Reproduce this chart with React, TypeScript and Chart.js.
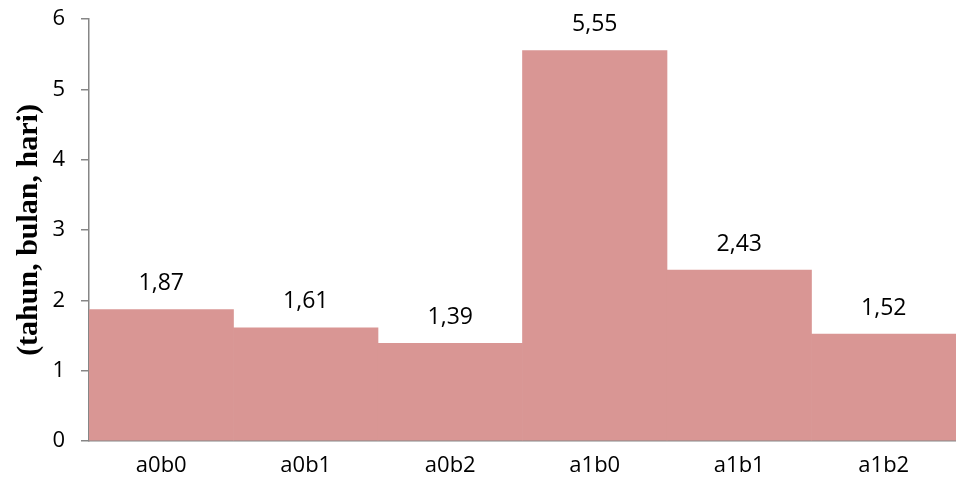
import React, { useEffect, useRef } from "react";
import { Chart, registerables } from "chart.js";

Chart.register(...registerables);

const categories = ["a0b0", "a0b1", "a0b2", "a1b0", "a1b1", "a1b2"];
const values = [1.87, 1.61, 1.39, 5.55, 2.43, 1.52];
const yTicks = [0, 1, 2, 3, 4, 5, 6];
const yTitle = "(tahun, bulan, hari)";

const BAR_COLOR = "#D99694";
const AXIS_COLOR = "#868686";
const FONT = "'Open Sans', 'Liberation Sans', sans-serif";

const valueLabels = {
  id: "valueLabels",
  afterDatasetsDraw(chart: any) {
    const ctx = chart.ctx;
    const meta = chart.getDatasetMeta(0);
    ctx.save();
    ctx.font = `23px ${FONT}`;
    ctx.fillStyle = "#000";
    ctx.textAlign = "center";
    ctx.textBaseline = "middle";
    meta.data.forEach((bar: any, i: number) => {
      const v = chart.data.datasets[0].data[i] as number;
      ctx.fillText(v.toFixed(2).replace(".", ","), bar.x, bar.y - 26);
    });
    ctx.restore();
  },
};

export default function App() {
  const ref = useRef<HTMLCanvasElement | null>(null);

  useEffect(() => {
    if (!ref.current) return;
    const chart = new Chart(ref.current, {
      type: "bar",
      data: {
        labels: categories,
        datasets: [
          {
            data: values,
            backgroundColor: BAR_COLOR,
            borderWidth: 0,
            barPercentage: 1,
            categoryPercentage: 1,
          },
        ],
      },
      options: {
        animation: false,
        responsive: false,
        layout: { padding: { top: 19, right: 0, left: 0, bottom: 0 } },
        plugins: {
          legend: { display: false },
          tooltip: { enabled: false },
        },
        scales: {
          x: {
            grid: { display: false, drawTicks: false },
            border: { display: true, color: AXIS_COLOR, width: 1.5 },
            ticks: { color: "#000", font: { family: FONT, size: 22 }, padding: 12 },
            afterFit(scale: any) {
              scale.height = 47;
            },
          },
          y: {
            min: 0,
            max: 6,
            afterBuildTicks(scale: any) {
              scale.ticks = yTicks.map((v) => ({ value: v }));
            },
            grid: {
              drawOnChartArea: false,
              drawTicks: true,
              tickLength: 8,
              color: AXIS_COLOR,
              lineWidth: 1.5,
            },
            border: { display: true, color: AXIS_COLOR, width: 1.5 },
            ticks: { color: "#000", font: { family: FONT, size: 22 }, padding: 16 },
            title: {
              display: true,
              text: yTitle,
              color: "#000",
              font: { family: "'Liberation Serif', serif", size: 30, weight: "bold" },
              padding: { top: 11, bottom: 0 },
            },
            afterFit(scale: any) {
              scale.width = 89;
              scale.paddingTop = 0;
              scale.paddingBottom = 0;
            },
          },
        },
      },
      plugins: [valueLabels],
    });
    return () => chart.destroy();
  }, []);

  return (
    <div style={{ position: "fixed", left: 0, top: 0, width: 956, height: 488, background: "#fff" }}>
      <canvas ref={ref} width={956} height={488} />
    </div>
  );
}
